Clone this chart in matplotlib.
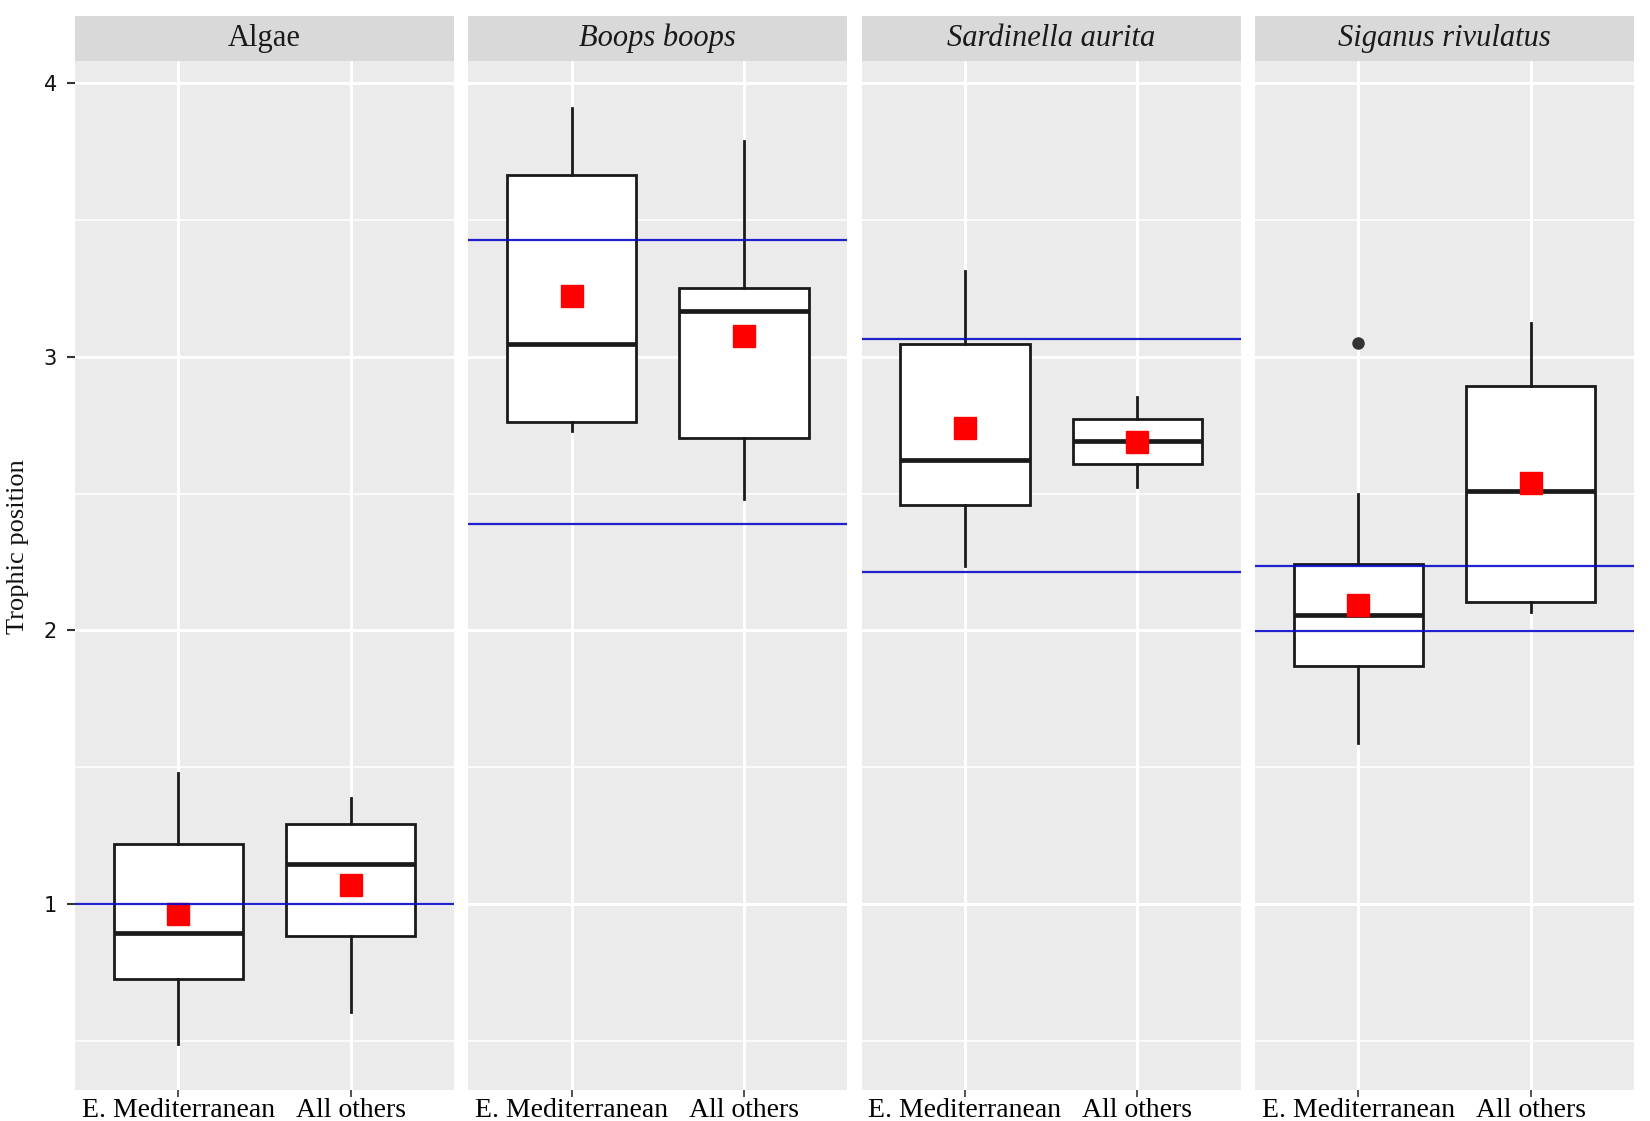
import numpy as np
import matplotlib.pyplot as plt
from matplotlib.patches import Rectangle

# panels and groups
panels = ['Algae', 'Boops boops', 'Sardinella aurita', 'Siganus rivulatus']
italic = [False, True, True, True]
groups = ['E. Mediterranean', 'All others']

# box statistics per panel: [E. Med, All others]
whislo = [[0.49, 0.605], [2.73, 2.48], [2.235, 2.525], [1.59, 2.068]]
q1     = [[0.726, 0.883], [2.763, 2.704], [2.458, 2.607], [1.871, 2.103]]
med    = [[0.894, 1.146], [3.046, 3.168], [2.623, 2.691], [2.056, 2.509]]
q3     = [[1.22, 1.292], [3.664, 3.252], [3.046, 2.771], [2.243, 2.893]]
whishi = [[1.479, 1.387], [3.91, 3.786], [3.313, 2.852], [2.497, 3.124]]
fliers = [[[], []], [[], []], [[], []], [[3.049], []]]
means  = [[0.963, 1.069], [3.222, 3.077], [2.738, 2.69], [2.093, 2.54]]

# reference lines per panel
hlines = [[1.0], [3.425, 2.389], [3.065, 2.215], [2.236, 1.999]]

W, H = 1650, 1121
fig = plt.figure(figsize=(W / 100, H / 100), dpi=100)

left = 75 / W
pw = 379 / W
gap = 14.3 / W
bottom = 31 / H
ph = 1029 / H
strip_h = 45 / 1029

dark = '#1a1a1a'
for i, name in enumerate(panels):
    ax = fig.add_axes([left + i * (pw + gap), bottom, pw, ph])
    ax.set_facecolor('#EBEBEB')
    for s in ax.spines.values():
        s.set_visible(False)

    stats = []
    for j in range(2):
        stats.append(dict(med=med[i][j], q1=q1[i][j], q3=q3[i][j],
                          whislo=whislo[i][j], whishi=whishi[i][j],
                          fliers=fliers[i][j]))
    ax.bxp(stats, positions=[1, 2], widths=0.75, patch_artist=True,
           showcaps=False, showfliers=True, manage_ticks=False,
           boxprops=dict(facecolor='white', edgecolor=dark, linewidth=2.0),
           medianprops=dict(color=dark, linewidth=3.4, solid_capstyle='butt'),
           whiskerprops=dict(color=dark, linewidth=2.0),
           flierprops=dict(marker='o', markerfacecolor='#333333',
                           markeredgecolor='#333333', markersize=8))
    ax.plot([1, 2], means[i], linestyle='none', marker='s', color='#FF0000',
            markersize=16, zorder=4)
    for h in hlines[i]:
        ax.axhline(h, color='#0a0acc', linewidth=1.6, alpha=0.9, zorder=5)

    ax.set_xlim(0.4, 2.6)
    ax.set_ylim(0.321, 4.080)
    ax.set_yticks([1, 2, 3, 4])
    ax.set_yticks([0.5, 1.5, 2.5, 3.5], minor=True)
    ax.set_xticks([1, 2])
    ax.set_xticklabels(groups, fontfamily='Liberation Serif', fontsize=20)
    ax.grid(which='major', color='white', linewidth=2.2)
    ax.grid(which='minor', axis='y', color='white', linewidth=1.1)
    ax.set_axisbelow(True)
    ax.tick_params(axis='x', length=5, width=1.2, color='#333333', pad=1)
    ax.tick_params(which='minor', length=0)
    if i == 0:
        ax.tick_params(axis='y', length=6, width=1.5, color='#333333', pad=7,
                       labelsize=15, labelcolor='#111111')
        ax.set_ylabel('Trophic position', fontfamily='Liberation Serif',
                      fontsize=19, color='#111111')
        ax.yaxis.set_label_coords(-0.122, 0.528)
    else:
        ax.tick_params(axis='y', length=0, labelleft=False)

    # facet strip
    ax.add_patch(Rectangle((0, 1), 1, strip_h, transform=ax.transAxes,
                           facecolor='#D9D9D9', edgecolor='none', clip_on=False))
    ax.text(0.5, 1 + strip_h / 2, name, transform=ax.transAxes, ha='center',
            va='center', fontfamily='Liberation Serif', fontsize=22,
            style='italic' if italic[i] else 'normal', color='#1a1a1a')

fig.savefig('out.png', dpi=100, facecolor='white')
